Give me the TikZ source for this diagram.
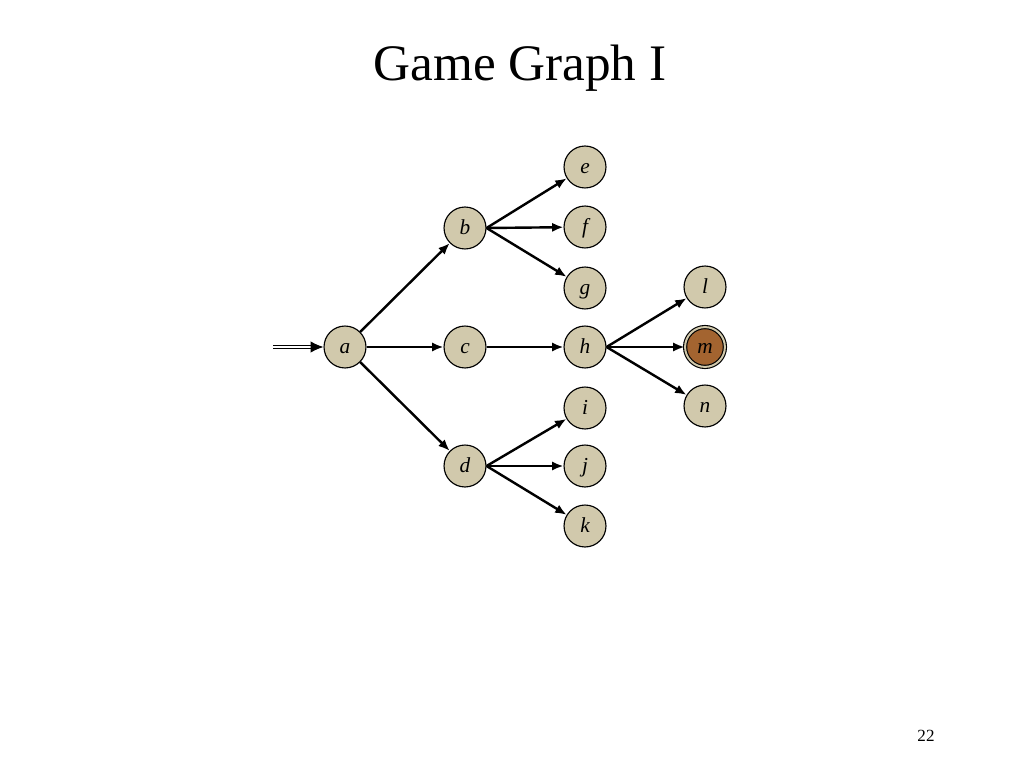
\documentclass[tikz,border=0pt]{standalone}
\usepackage{fontspec}
\setmainfont{Liberation Serif}
\usetikzlibrary{arrows.meta,positioning}
\definecolor{statefill}{RGB}{209,201,172}
\definecolor{goalfill}{RGB}{163,100,48}

\begin{document}
\begin{tikzpicture}[x=0.703125pt, y=-0.703125pt,
    state/.style={circle, draw=black, line width=0.8pt, fill=statefill,
      minimum size=29.5pt, inner sep=0pt, text height=11pt, text depth=2pt,
      font=\fontsize{15}{17}\selectfont\itshape},
    goal/.style={state, fill=goalfill, double=statefill, double distance=1.4pt,
      minimum size=28pt},
    move/.style={line width=1.7pt, -{Latex[length=8pt,width=6.5pt]}}]
  \useasboundingbox (0,0) rectangle (1024,768);

  % Title and page number
  \node[font=\fontsize{36}{40}\selectfont] (title) at (520,68) {Game Graph I};
  \node[font=\fontsize{12}{14}\selectfont] (page) at (926,736) {22};

  % States
  \node[state] (a) at (345,347) {a};
  \node[state] (b) at (465,228) {b};
  \node[state] (c) at (465,347) {c};
  \node[state] (d) at (465,466) {d};
  \node[state] (e) at (585,167) {e};
  \node[state] (f) at (585,227) {f};
  \node[state] (g) at (585,288) {g};
  \node[state] (h) at (585,347) {h};
  \node[state] (i) at (585,408) {i};
  \node[state] (j) at (585,466) {j};
  \node[state] (k) at (585,526) {k};
  \node[state] (l) at (705,287) {l};
  \node[goal]  (m) at (705,347) {m};
  \node[state] (n) at (705,406) {n};

  % Initial state marker (double line)
  \coordinate (start) at (273,347);
  \draw[line width=0.8pt, double distance=1.6pt] (start) -- ([xshift=-8pt]a.west);
  \draw[-{Latex[length=9pt,width=8pt]}, line width=0.8pt] ([xshift=-9pt]a.west) -- (a.west);

  % Moves
  \draw[move] (a) -- (b);
  \draw[move] (a) -- (c);
  \draw[move] (a) -- (d);
  \draw[move] (b.east) -- (e);
  \draw[move] (b.east) -- (f);
  \draw[move] (b.east) -- (g);
  \draw[move] (c) -- (h);
  \draw[move] (d.east) -- (i);
  \draw[move] (d.east) -- (j);
  \draw[move] (d.east) -- (k);
  \draw[move] (h.east) -- (l);
  \draw[move] (h.east) -- (m);
  \draw[move] (h.east) -- (n);
\end{tikzpicture}
\end{document}
